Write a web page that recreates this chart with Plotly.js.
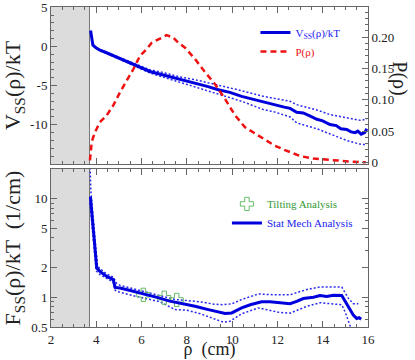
<!DOCTYPE html>
<html>
<head>
<meta charset="utf-8">
<script src="https://cdn.plot.ly/plotly-3.0.1.min.js"></script>
<style>html,body{margin:0;padding:0;background:#fff;}#chart{width:415px;height:360px;}</style>
</head>
<body>
<div id="chart"></div>
<script>
// ---- Data ----
const excludedRho = [2, 3.7];

// Top panel: V_SS(rho)/kT
const vRho = [3.75,3.85,4.0,4.16,4.4,4.6,4.8,5.05,5.4,5.71,6.0,6.37,6.7,7.04,7.3,7.62,8.0,8.36,8.9,9.39,9.9,10.42,10.9,11.38,11.86,12.3,12.56,12.85,13.14,13.45,13.74,14.0,14.32,14.6,14.8,15.06,15.25,15.43,15.55,15.7,15.85,15.95];
const vVal = [2.0,0.15,-0.2,-0.47,-0.75,-1.0,-1.2,-1.5,-1.9,-2.36,-2.75,-3.2,-3.45,-3.7,-3.95,-4.18,-4.4,-4.68,-5.1,-5.53,-5.86,-6.37,-6.75,-7.13,-7.43,-7.75,-7.9,-8.4,-8.48,-8.9,-9.3,-9.5,-9.96,-10.1,-10.5,-10.6,-10.9,-11.0,-10.8,-11.2,-11.0,-10.5];
const vBandRho = [3.75,3.85,4.16,4.6,5.05,5.71,6.37,7.04,7.62,8.36,9.39,9.9,10.42,11.38,11.86,12.56,12.85,13.74,14.32,15.06,15.43,15.7,15.95];
const vUpper = [2.0,0.15,-0.42,-0.92,-1.4,-2.2,-2.98,-3.4,-3.85,-4.25,-4.95,-5.23,-5.65,-6.37,-6.6,-7.0,-7.43,-8.1,-8.7,-9.15,-9.3,-9.45,-9.25];
const vLower = [2.0,0.15,-0.52,-1.08,-1.6,-2.52,-3.4,-4.0,-4.5,-5.1,-6.1,-6.5,-7.0,-8.06,-8.35,-9.0,-9.75,-10.5,-11.2,-12.0,-12.3,-12.5,-12.5];

// Top panel: P(rho)
const pRho = [3.72,3.76,3.8,3.94,4.16,4.46,4.75,5.05,5.34,5.64,5.93,6.23,6.45,6.74,7.11,7.4,7.62,7.92,8.36,8.8,9.24,9.69,10.13,10.57,11.01,11.45,11.86,12.3,13.0,13.6,14.2,14.77,15.3,15.9];
const pVal = [0.003,0.02,0.033,0.048,0.064,0.075,0.091,0.112,0.130,0.149,0.170,0.181,0.191,0.196,0.203,0.199,0.191,0.183,0.165,0.144,0.125,0.101,0.075,0.056,0.046,0.035,0.027,0.02,0.01,0.006,0.004,0.002,0.001,0.0];

// Bottom panel: F_SS(rho)/kT
const fRho = [3.74,3.8,3.88,3.94,4.02,4.16,4.3,4.46,4.6,4.75,4.83,5.05,5.5,5.93,6.4,6.81,7.2,7.7,8.0,8.36,8.95,9.3,9.69,9.98,10.2,10.42,10.8,11.3,11.67,12.11,12.56,12.85,13.14,13.59,13.88,14.18,14.47,14.84,15.0,15.13,15.35,15.5,15.6,15.7];
const fVal = [10.5,7.0,4.5,3.4,1.98,1.83,1.72,1.63,1.57,1.51,1.26,1.24,1.17,1.11,1.03,0.98,0.92,0.877,0.84,0.81,0.75,0.72,0.684,0.694,0.74,0.78,0.84,0.90,0.90,0.877,0.86,0.91,0.97,1.0,1.04,1.02,1.05,1.04,0.9,0.78,0.66,0.61,0.62,0.60];
const fUpRho = [3.72,3.76,3.85,3.95,4.05,4.16,4.46,4.75,4.9,5.05,5.93,6.81,7.48,8.0,8.58,9.2,9.6,10.0,10.42,11.16,11.86,12.56,13.3,13.88,14.84,15.13,15.35,15.57];
const fUpper = [25,12,7,4,2.1,1.95,1.72,1.6,1.38,1.32,1.18,1.04,0.95,0.92,0.9,0.85,0.84,0.86,0.95,1.08,1.06,1.06,1.2,1.27,1.27,0.98,0.86,0.86];
const fLoRho = [3.72,3.8,3.9,4.0,4.16,4.46,4.75,4.83,5.05,5.93,6.81,7.48,8.0,8.6,9.2,9.6,9.9,10.42,11.16,11.67,12.11,12.56,13.3,13.88,14.84,15.0,15.13,15.25,15.35];
const fLower = [9.0,5.5,3.5,1.85,1.7,1.55,1.42,1.18,1.12,1.0,0.9,0.75,0.74,0.68,0.6,0.56,0.57,0.68,0.78,0.74,0.7,0.69,0.81,0.88,0.84,0.7,0.57,0.48,0.42];

// Tilting analysis points
const tiltRho = [6.08, 7.0, 7.55];
const tiltVal = [1.06, 0.99, 0.94];

// Tick labels
const xTicks = [2,4,6,8,10,12,14,16];
const vTicks = [5,0,-5,-10];
const vTickText = ['5','0','-5','-10'];
const pTicks = [0,0.05,0.10,0.15,0.20];
const pTickText = ['0','0.05','0.10','0.15','0.20'];
const fTicks = [0.5,1,2,5,10];
const fTickText = ['0.5','1','2','5','10'];
const fMinor = [0.6,0.7,0.8,0.9,3,4,6,7,8,9,20];

// ---- Styles ----
const BLUE = '#0000dd';
const BAND = '#2a2aee';
const RED = '#ee1111';
const GREEN = '#66bb66';
const FONT = 'Liberation Serif, Times New Roman, serif';
const AX = '#666666';

const traces = [
  {x: vBandRho, y: vUpper, xaxis:'x2', yaxis:'y2', mode:'lines', showlegend:false, hoverinfo:'skip',
   line:{color:BAND, width:1.5, dash:'2px,2px'}},
  {x: vBandRho, y: vLower, xaxis:'x2', yaxis:'y2', mode:'lines', showlegend:false, hoverinfo:'skip',
   line:{color:BAND, width:1.5, dash:'2px,2px'}},
  {x: vRho, y: vVal, xaxis:'x2', yaxis:'y2', mode:'lines', legend:'legend',
   name:'<span style="color:#1a1aee">V<sub>SS</sub>(ρ)/kT</span>',
   line:{color:BLUE, width:3}},
  {x: pRho, y: pVal, xaxis:'x2', yaxis:'y3', mode:'lines', legend:'legend',
   name:'<span style="color:#ee1111">P(ρ)</span>',
   line:{color:RED, width:2.5, dash:'6px,4px'}},
  {x: fUpRho, y: fUpper, xaxis:'x', yaxis:'y', mode:'lines', showlegend:false, hoverinfo:'skip',
   line:{color:BAND, width:1.5, dash:'2px,2px'}},
  {x: fLoRho, y: fLower, xaxis:'x', yaxis:'y', mode:'lines', showlegend:false, hoverinfo:'skip',
   line:{color:BAND, width:1.5, dash:'2px,2px'}},
  {x: tiltRho, y: tiltVal, xaxis:'x', yaxis:'y', mode:'markers', legend:'legend2',
   name:'<span style="color:#339933">Tilting Analysis</span>',
   marker:{symbol:'cross-open', size:11, color:GREEN, line:{color:GREEN, width:1}}},
  {x: fRho, y: fVal, xaxis:'x', yaxis:'y', mode:'lines', legend:'legend2',
   name:'<span style="color:#1a1aee">Stat Mech Analysis</span>',
   line:{color:BLUE, width:3}}
];

const tickFont = {family:FONT, size:13, color:'#222'};
const baseX = {range:[2,16], showline:true, linecolor:AX, linewidth:1, mirror:'ticks',
  ticks:'inside', ticklen:6, tickcolor:AX, showgrid:false, zeroline:false,
  tickvals:xTicks, tickfont:tickFont, ticklabeloverflow:'allow',
  minor:{dtick:0.5, tick0:0, ticks:'inside', ticklen:3, tickcolor:AX}};

const layout = {
  width:415, height:360,
  margin:{l:51, r:47, t:7, b:33},
  paper_bgcolor:'#fff', plot_bgcolor:'#fff',
  font:{family:FONT, color:'#222'},
  showlegend:true,
  xaxis: Object.assign({}, baseX, {anchor:'y', domain:[0,1],
    title:{text:'ρ  (cm)', font:{family:FONT, size:18, color:'#222'}, standoff:5}}),
  xaxis2: Object.assign({}, baseX, {anchor:'y2', matches:'x', showticklabels:false}),
  yaxis: {type:'log', domain:[0,0.4938], anchor:'x', range:[Math.log10(0.5)-0.0005, Math.log10(20)],
    showline:true, linecolor:AX, mirror:'ticks', ticks:'inside', ticklen:6, tickcolor:AX,
    showgrid:false, zeroline:false, tickvals:fTicks, ticktext:fTickText, tickfont:tickFont,
    ticklabeloverflow:'allow',
    minor:{tickvals:fMinor, ticks:'inside', ticklen:3, tickcolor:AX},
    title:{text:'F<sub>SS</sub>(ρ)/kT  (1/cm)', font:{family:FONT, size:22, color:'#222'}, standoff:4}},
  yaxis2: {domain:[0.5093,1], anchor:'x2', range:[-15,5.02],
    showline:true, linecolor:AX, ticks:'inside', ticklen:6, tickcolor:AX,
    showgrid:false, zeroline:false, tickvals:vTicks, ticktext:vTickText, tickfont:tickFont,
    ticklabeloverflow:'allow',
    minor:{dtick:1, ticks:'inside', ticklen:3, tickcolor:AX},
    title:{text:'V<sub>SS</sub>(ρ)/kT', font:{family:FONT, size:22, color:'#222'}, standoff:4}},
  yaxis3: {overlaying:'y2', side:'right', anchor:'x2', range:[-0.0027,0.248],
    showline:true, linecolor:AX, ticks:'inside', ticklen:6, tickcolor:AX,
    showgrid:false, zeroline:false, tickvals:pTicks, ticktext:pTickText, tickfont:tickFont,
    ticklabeloverflow:'allow',
    minor:{dtick:0.01, tick0:0, ticks:'inside', ticklen:3, tickcolor:AX}},
  legend: {x:0.645, y:0.966, xanchor:'left', yanchor:'top', bgcolor:'rgba(0,0,0,0)',
    font:{family:FONT, size:11}, tracegroupgap:0},
  legend2: {x:0.555, y:0.43, xanchor:'left', yanchor:'top', bgcolor:'rgba(0,0,0,0)',
    font:{family:FONT, size:11}},
  shapes: [
    {type:'rect', xref:'x2', yref:'y2 domain', x0:excludedRho[0], x1:excludedRho[1], y0:0, y1:1,
     fillcolor:'#dcdcdc', line:{width:0}, layer:'below'},
    {type:'line', xref:'x2', yref:'y2 domain', x0:excludedRho[1], x1:excludedRho[1], y0:0, y1:1,
     line:{color:'#777', width:1}, layer:'below'},
    {type:'rect', xref:'x', yref:'y domain', x0:excludedRho[0], x1:excludedRho[1], y0:0, y1:1,
     fillcolor:'#dcdcdc', line:{width:0}, layer:'below'},
    {type:'line', xref:'x', yref:'y domain', x0:excludedRho[1], x1:excludedRho[1], y0:0, y1:1,
     line:{color:'#777', width:1}, layer:'below'}
  ],
  annotations: [
    {text:'P(ρ)', xref:'paper', yref:'paper', x:1.1, y:0.778, textangle:90, showarrow:false,
     font:{family:FONT, size:20, color:'#222'}, xanchor:'center', yanchor:'middle'}
  ]
};

Plotly.newPlot('chart', traces, layout, {displayModeBar:false, staticPlot:true});
</script>
</body>
</html>
